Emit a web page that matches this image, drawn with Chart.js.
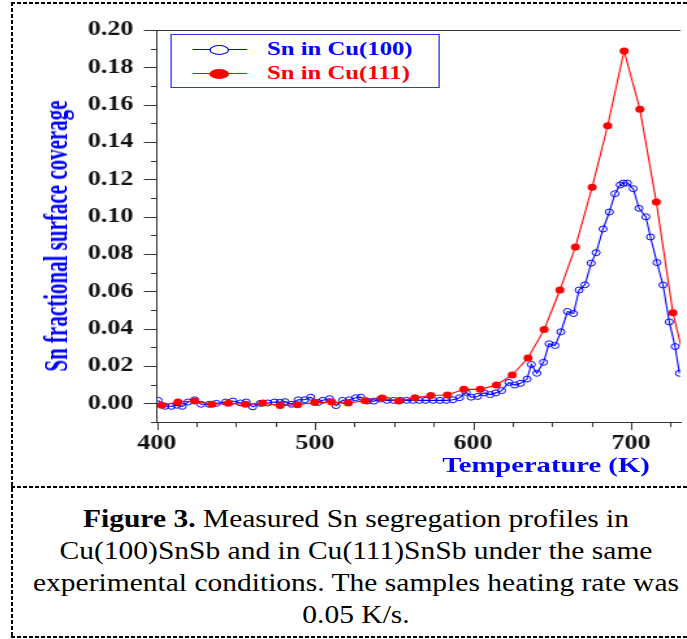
<!DOCTYPE html>
<html>
<head>
<meta charset="utf-8">
<script src="https://cdn.jsdelivr.net/npm/chart.js@4/dist/chart.umd.min.js"></script>
<style>
  html, body { margin: 0; padding: 0; background: #fff; }
  body { width: 687px; height: 639px; position: relative; overflow: hidden; font-family: 'Liberation Serif', 'Times New Roman', serif; }
  .dh { position: absolute; height: 2px; background: repeating-linear-gradient(to right, #000 0 4px, transparent 4px 6px); }
  .dv { position: absolute; width: 2px; background: repeating-linear-gradient(to bottom, #000 0 4px, transparent 4px 6px); }
  #wrap { position: absolute; left: 0; top: 0; width: 528px; height: 487px; transform: scaleX(1.30114); transform-origin: 0 0; }
  #c { position: absolute; left: 0; top: 0; width: 528px; height: 487px; }
  #legend { position: absolute; left: 130.7px; top: 34px; width: 207.5px; height: 54px; border: 1px solid #3030ff; box-sizing: border-box; background: #fff; }
  .lline { position: absolute; left: 16px; width: 42.2px; height: 1px; }
  .lmark { position: absolute; left: 29px; width: 15.4px; height: 10px; border-radius: 50%; box-sizing: border-box; }
  .ltext { position: absolute; left: 73.5px; font: bold 19px 'Liberation Serif', serif; line-height: 22px; white-space: nowrap; }
  .title { position: absolute; white-space: nowrap; font-weight: bold; color: #0000ff; font-family: 'Liberation Serif', serif; }
  #caption { position: absolute; left: 56px; width: 600px; top: 503px; text-align: center; font: 26px/32px 'Liberation Serif', serif; color: #000; transform: scaleX(1.135); transform-origin: 300px 0; white-space: nowrap; }
</style>
</head>
<body>
<div class="dh" style="left:11px;top:2px;width:676px;"></div>
<div class="dh" style="left:11px;top:486px;width:676px;"></div>
<div class="dh" style="left:11px;top:636px;width:676px;"></div>
<div class="dv" style="left:11px;top:2px;height:636px;"></div>

<div id="wrap">
  <canvas id="c" width="528" height="487"></canvas>
  <div id="legend">
    <div class="lline" style="top:14px;background:#0000ff;"></div>
    <div class="lmark" style="top:9.5px;border:1px solid #0000ff;background:#fff;"></div>
    <div class="ltext" style="top:3px;color:#0000ff;">Sn in Cu(100)</div>
    <div class="lline" style="top:38px;background:#ff0000;"></div>
    <div class="lmark" style="top:33.5px;background:#ff0000;"></div>
    <div class="ltext" style="top:27px;color:#ff0000;">Sn in Cu(111)</div>
  </div>
</div>

<div class="title" id="ytitle" style="left:57px;top:236px;font-size:21px;transform:translate(-50%,-50%) scaleX(1.6) rotate(-90deg);">Sn fractional surface coverage</div>
<div class="title" id="xtitle" style="left:546px;top:465px;font-size:22px;transform:translate(-50%,-50%) scaleX(1.3);">Temperature (K)</div>

<div id="caption"><b>Figure 3.</b> Measured Sn segregation profiles in<br>Cu(100)SnSb and in Cu(111)SnSb under the same<br>experimental conditions. The samples heating rate was<br>0.05 K/s.</div>

<script>
// ---- data ----
const blueT = [400.8, 405.0, 409.2, 412.6, 416.0, 419.6, 423.8, 427.9, 433.1, 437.7,
  443.5, 448.1, 452.9, 456.5, 460.6, 465.4, 470.2, 474.4, 477.9, 481.0,
  485.2, 489.4, 493.5, 497.3, 501.9, 505.0, 509.2, 513.3, 517.5, 521.7,
  525.8, 529.0, 533.1, 537.3, 541.5, 545.6, 549.8, 554.0, 558.0, 562.0,
  566.0, 570.0, 574.8, 579.0, 583.1, 587.3, 591.5, 595.6, 598.8, 602.9,
  607.1, 610.8, 614.4, 618.1, 622.7, 626.4, 630.0, 634.2, 636.9, 640.4,
  644.6, 648.1, 651.9, 655.6, 659.8, 663.6, 667.1, 670.8, 674.8, 677.9,
  682.3, 686.3, 689.8, 693.1, 695.2, 697.7, 701.4, 705.0, 709.4, 712.3,
  716.4, 720.2, 724.2, 727.9, 730.6];
const blueV = [0.0016, -0.0016, -0.0016, -0.0010, -0.0016, 0.0007, 0.0019, -0.0005, -0.0005, 0.0000,
  0.0007, 0.0012, 0.0002, 0.0007, -0.0019, 0.0000, 0.0002, 0.0007, 0.0005, 0.0009,
  -0.0005, 0.0019, 0.0019, 0.0033, 0.0005, 0.0016, 0.0025, -0.0012, 0.0016, 0.0019,
  0.0030, 0.0033, 0.0012, 0.0012, 0.0023, 0.0016, 0.0016, 0.0016, 0.0016, 0.0016,
  0.0016, 0.0016, 0.0016, 0.0016, 0.0016, 0.0019, 0.0030, 0.0059, 0.0033, 0.0037,
  0.0056, 0.0047, 0.0056, 0.0068, 0.0112, 0.0098, 0.0107, 0.0130, 0.0208, 0.0161,
  0.0220, 0.0319, 0.0310, 0.0383, 0.0492, 0.0481, 0.0607, 0.0635, 0.0751, 0.0807,
  0.0934, 0.1025, 0.1123, 0.1170, 0.1180, 0.1180, 0.1150, 0.1045, 0.0999, 0.0891,
  0.0754, 0.0634, 0.0436, 0.0304, 0.0161];
const redT = [403.0, 413.3, 423.8, 434.8, 445.2, 456.0, 467.0, 478.0, 489.0, 499.8,
  510.6, 521.0, 531.7, 542.5, 552.9, 563.3, 573.3, 583.8, 594.2, 604.6,
  614.8, 624.8, 634.8, 645.0, 655.0, 664.8, 675.4, 685.2, 695.6, 705.6,
  716.0, 726.5, 737.0];
const redV = [-0.0010, 0.0007, 0.0012, -0.0005, 0.0000, -0.0005, 0.0002, -0.0012, -0.0007, 0.0004,
  0.0007, 0.0002, 0.0014, 0.0028, 0.0012, 0.0030, 0.0042, 0.0045, 0.0075, 0.0075,
  0.0098, 0.0152, 0.0243, 0.0395, 0.0607, 0.0838, 0.1158, 0.1487, 0.1888, 0.1576,
  0.1078, 0.0485, 0.0120];
const seriesNames = ['Sn in Cu(100)', 'Sn in Cu(111)'];
const xMajorTicks = [400, 500, 600, 700];
const xMinorTicks = [400, 425, 450, 475, 500, 525, 550, 575, 600, 625, 650, 675, 700, 725];
const yMajorLabels = ['0.00', '0.02', '0.04', '0.06', '0.08', '0.10', '0.12', '0.14', '0.16', '0.18', '0.20'];
const yMinorTicks = [-0.01, 0.00, 0.01, 0.02, 0.03, 0.04, 0.05, 0.06, 0.07, 0.08, 0.09, 0.10,
  0.11, 0.12, 0.13, 0.14, 0.15, 0.16, 0.17, 0.18, 0.19, 0.20];

const pts = (t, v) => t.map((x, i) => ({ x: x, y: v[i] }));

const frameTicks = {
  id: 'frameTicks',
  afterDraw(chart) {
    const { ctx, chartArea: a, scales: { x, y } } = chart;
    ctx.save();
    ctx.strokeStyle = '#333';
    ctx.lineWidth = 1;
    ctx.beginPath();
    ctx.moveTo(a.left, Math.round(a.top) + 0.5);
    ctx.lineTo(a.right, Math.round(a.top) + 0.5);
    for (const v of xMinorTicks) {
      const px = Math.round(x.getPixelForValue(v)) + 0.5;
      const len = xMajorTicks.includes(v) ? 8 : 5;
      ctx.moveTo(px, a.bottom);
      ctx.lineTo(px, a.bottom + len);
    }
    yMinorTicks.forEach((v) => {
      const py = Math.round(y.getPixelForValue(v)) + 0.5;
      const major = yMajorLabels.includes(v.toFixed(2));
      const len = major ? 10 : 4.6;
      ctx.moveTo(a.left, py);
      ctx.lineTo(a.left - len, py);
    });
    // short extension of the y axis below the x axis
    ctx.moveTo(Math.round(a.left) + 0.5, a.bottom);
    ctx.lineTo(Math.round(a.left) + 0.5, a.bottom + 8);
    ctx.stroke();
    ctx.restore();
  }
};

Chart.defaults.font.family = "'Liberation Serif', 'Times New Roman', serif";

new Chart(document.getElementById('c'), {
  type: 'line',
  data: {
    datasets: [
      {
        label: seriesNames[0], data: pts(blueT, blueV), order: 1,
        borderColor: '#0000ff', borderWidth: 1.1, backgroundColor: 'rgba(0,0,0,0)',
        pointRadius: 3, pointBorderWidth: 1, pointBorderColor: '#0000ff',
        pointBackgroundColor: 'rgba(0,0,0,0)', tension: 0
      },
      {
        label: seriesNames[1], data: pts(redT, redV), order: 0,
        borderColor: '#ff0000', borderWidth: 1.1, backgroundColor: '#ff0000',
        pointRadius: 3.5, pointBorderWidth: 0, pointBackgroundColor: '#ff0000', tension: 0
      }
    ]
  },
  options: {
    responsive: false,
    animation: false,
    devicePixelRatio: 1,
    layout: { padding: { top: 22, left: 0, right: 0, bottom: 0 } },
    plugins: { legend: { display: false }, tooltip: { enabled: false }, title: { display: false } },
    scales: {
      x: {
        type: 'linear', min: 400, max: 731.3,
        afterFit: (s) => { s.height = 65; },
        afterBuildTicks: (s) => { s.ticks = xMinorTicks.map((v) => ({ value: v })); },
        grid: { display: false, drawTicks: false, tickLength: 0 },
        border: { display: true, color: '#333', width: 1 },
        ticks: {
          autoSkip: false, maxRotation: 0, minRotation: 0, padding: 10,
          color: '#111', font: { size: 20, weight: 'bold' },
          callback: (v) => (xMajorTicks.includes(v) ? String(v) : '')
        }
      },
      y: {
        type: 'linear', min: -0.01, max: 0.20,
        afterFit: (s) => { s.width = 120.6; },
        afterBuildTicks: (s) => { s.ticks = yMinorTicks.map((v) => ({ value: v })); },
        grid: { display: false, drawTicks: false, tickLength: 0 },
        border: { display: true, color: '#333', width: 1 },
        ticks: {
          autoSkip: false, padding: 18, color: '#111', font: { size: 20, weight: 'bold' },
          callback: (v) => { const s = Number(v).toFixed(2); return yMajorLabels.includes(s) ? s : ''; }
        }
      }
    }
  },
  plugins: [frameTicks]
});
</script>
</body>
</html>
